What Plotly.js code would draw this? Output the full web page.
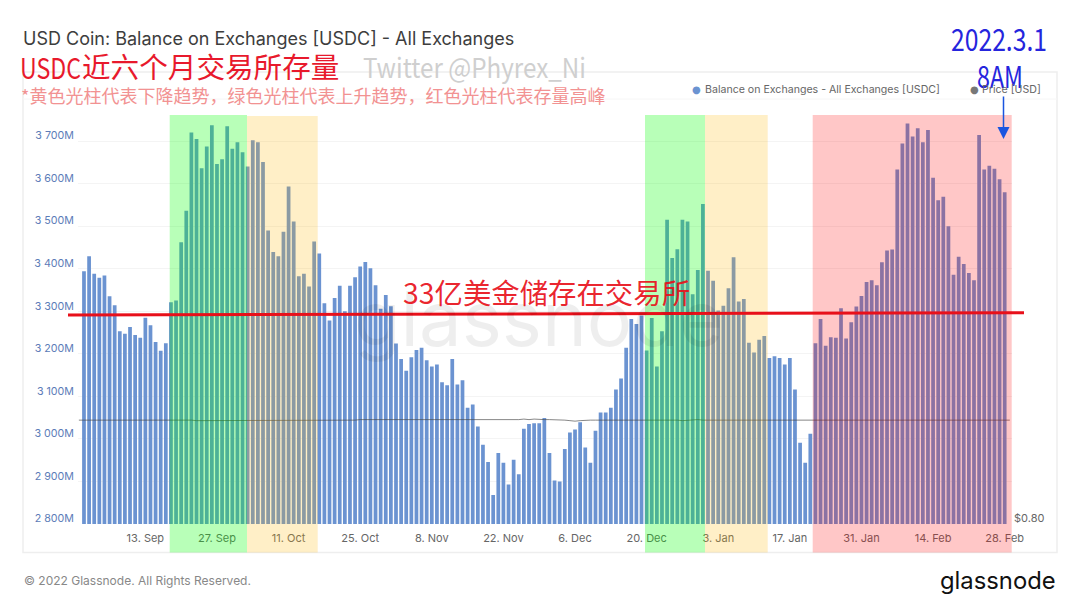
<!DOCTYPE html>
<html><head><meta charset="utf-8">
<script src="https://cdn.plot.ly/plotly-3.0.1.min.js"></script>
<style>html,body{margin:0;padding:0;background:#fff}#c{width:1080px;height:608px}</style>
</head><body><div id="c"></div>
<script>
const balanceM = [3394,3429,3388,3379,3384,3335,3314,3253,3247,3263,3244,3238,3285,3267,3228,3207,3225,3321,3325,3462,3536,3720,3705,3636,3687,3737,3646,3657,3735,3682,3697,3674,3640,3702,3697,3651,3490,3439,3429,3487,3593,3511,3382,3388,3358,3464,3436,3319,3278,3331,3360,3300,3360,3380,3405,3416,3401,3361,3306,3338,3312,3224,3188,3160,3192,3209,3214,3185,3170,3175,3133,3126,3188,3128,3138,3073,3081,3029,2986,2946,2868,2967,2944,2893,2951,2917,3024,3035,3037,3037,3049,2967,2902,2900,2976,3015,3022,3039,2980,2944,3019,3062,3062,3073,3116,3142,3214,3282,3270,3290,3208,3284,3170,3253,3515,3425,3446,3515,3511,3340,3397,3552,3395,3372,3302,3313,3354,3427,3323,3329,3226,3203,3233,3242,3190,3194,3190,3175,3190,3116,2991,2944,3012,3225,3282,3219,3239,3238,3307,3236,3274,3311,3336,3369,3373,3361,3415,3443,3445,3633,3694,3741,3711,3730,3697,3726,3614,3561,3569,3500,3386,3428,3411,3390,3373,3714,3633,3642,3635,3610,3580];
const priceUsd = [1.000,1.000,1.000,1.000,1.000,1.000,1.000,1.000,1.000,1.000,1.000,1.000,1.001,1.001,1.000,1.000,1.000,1.000,1.000,1.000,1.000,1.000,1.000,0.999,0.999,1.000,1.000,1.000,1.000,1.000,1.000,1.000,1.000,0.999,1.000,1.000,1.000,1.000,1.000,1.000,1.000,1.000,1.000,1.000,1.000,1.000,1.000,1.000,1.000,1.000,1.000,1.000,1.000,1.000,1.000,1.001,1.001,1.000,1.000,1.000,1.000,1.000,1.000,1.000,1.000,1.001,1.001,1.000,1.000,1.000,1.000,1.000,1.000,1.000,1.000,1.000,1.000,1.000,1.000,1.000,1.000,1.000,1.000,1.000,1.000,1.001,1.001,1.002,1.001,1.002,1.001,1.001,1.001,1.001,1.000,1.000,0.999,0.998,0.999,1.000,1.000,1.000,1.000,1.000,1.000,1.000,1.000,1.001,1.000,1.000,1.000,1.000,1.000,1.000,1.001,1.000,1.001,1.000,0.999,1.000,1.001,1.001,1.000,1.000,1.000,1.000,1.000,1.000,1.000,1.000,1.000,1.000,1.000,1.000,1.000,1.000,1.001,1.000,1.000,1.000,1.001,1.000,1.000,1.000,1.000,1.000,1.000,1.000,1.000,1.000,1.000,1.000,1.000,1.000,1.000,1.000,1.000,1.000,1.000,1.000,1.000,1.000,1.000,1.000,1.000,1.000,1.000,1.000,1.000,1.000,1.000,1.000,1.000,1.000,1.000,1.000,1.000,1.000,1.000,1.000,1.000,1.000,1.000];
const xTickDates = ['2021-09-13','2021-09-27','2021-10-11','2021-10-25','2021-11-08','2021-11-22','2021-12-06','2021-12-20','2022-01-03','2022-01-17','2022-01-31','2022-02-14','2022-02-28'];
const xTickLabels = ['13. Sep','27. Sep','11. Oct','25. Oct','8. Nov','22. Nov','6. Dec','20. Dec','3. Jan','17. Jan','31. Jan','14. Feb','28. Feb'];
const yTickValues = [2800,2900,3000,3100,3200,3300,3400,3500,3600,3700];
const yTickLabels = ['2 800M','2 900M','3 000M','3 100M','3 200M','3 300M','3 400M','3 500M','3 600M','3 700M'];

const DAY = 86400000;
const START = Date.UTC(2021,8,1);
const iso = t => new Date(t).toISOString().slice(0,19);
const barDates = balanceM.map((_,i)=>iso(START+i*DAY));
const priceDates = priceUsd.map((_,i)=>iso(START+(i-1)*DAY));

const L=78,R=1012,T=115,B=524.5;
const px=x=>(x-L)/(R-L), py=y=>(B-y)/(B-T);
const CJK='"Noto Sans CJK SC","Noto Sans",sans-serif';
const note=(x,y,text,size,color,family,anchor='left',extra={})=>Object.assign({xref:'paper',yref:'paper',x:px(x),y:py(y),text,showarrow:false,xanchor:anchor,yanchor:'middle',font:{size,color,family},borderpad:0},extra);
const band=(x0,x1,y0,color)=>({type:'rect',xref:'paper',yref:'paper',x0:px(x0),x1:px(x1),y0:py(553),y1:py(y0),fillcolor:color,line:{width:0},layer:'above'});
const rule=(x0,y0,x1,y1,color,w,layer)=>({type:'line',xref:'paper',yref:'paper',x0:px(x0),y0:py(y0),x1:px(x1),y1:py(y1),line:{color,width:w},layer});

const traces=[
 {type:'bar',x:barDates,y:balanceM,name:'Balance on Exchanges - All Exchanges [USDC]',marker:{color:'#6b93d1',line:{width:0}},hoverinfo:'x+y'},
 {type:'scatter',mode:'lines',x:priceDates,y:priceUsd,name:'Price [USD]',yaxis:'y2',line:{color:'rgba(70,70,70,0.65)',width:1},hoverinfo:'x+y'}
];
const layout={
 width:1080,height:608,paper_bgcolor:'#fff',plot_bgcolor:'rgba(0,0,0,0)',showlegend:false,bargap:0.27,
 margin:{l:L,r:1080-R,t:T,b:608-B,pad:0},
 font:{family:'Inter, sans-serif'},
 title:{text:'USD Coin: Balance on Exchanges [USDC] - All Exchanges',x:23/1080,xanchor:'left',xref:'container',y:1-38.7/608,yanchor:'middle',yref:'container',font:{size:18,color:'#3d3d3d',family:'Inter, sans-serif'}},
 xaxis:{type:'date',range:[iso(START-1.17*DAY),iso(START+181.43*DAY)],tickmode:'array',tickvals:xTickDates,ticktext:xTickLabels,showgrid:false,zeroline:false,showline:false,ticks:'',tickfont:{size:11,color:'#666',family:'Inter, sans-serif'},ticklabelstandoff:6},
 yaxis:{range:[2800,2800+(B-T)/0.426],tickmode:'array',tickvals:yTickValues,ticktext:yTickLabels,showgrid:true,gridcolor:'#f4f4f4',gridwidth:1,zeroline:false,showline:false,ticks:'',tickfont:{size:10.7,color:'#5c7cb8',family:'Inter, sans-serif'},ticklabelstandoff:3},
 yaxis2:{overlaying:'y',side:'right',range:[0.8,0.8+0.2*(B-T)/104],tickmode:'array',tickvals:[0.8],ticktext:['$0.80'],showgrid:false,zeroline:false,showline:false,ticks:'',tickfont:{size:11,color:'#666',family:'Inter, sans-serif'},ticklabelshift:-6,ticklabelstandoff:1},
 shapes:[
  {type:'rect',xref:'paper',yref:'paper',x0:px(23),x1:px(1057),y0:py(553),y1:py(72),fillcolor:'rgba(0,0,0,0)',line:{color:'#eeeeee',width:1.5},layer:'below'},
  rule(23,99,1057,99,'#f6f6f6',1,'below'),
  band(169.7,247,115,'rgba(0,255,0,0.28)'),
  band(247,317.7,116,'rgba(255,183,0,0.22)'),
  band(645,705,115,'rgba(0,255,0,0.28)'),
  band(705,767.7,115,'rgba(255,183,0,0.22)'),
  band(812.7,1011.7,115,'rgba(255,0,0,0.22)'),
  rule(68,315.2,1024,313,'#e8101a',3,'above')
 ],
 annotations:[
  note(538,318,'glassnode',76,'rgba(0,0,0,0.065)','Inter, sans-serif','center'),
  note(20,65.5,'USDC',29,'#e8192c',CJK),
  note(81,65.5,'近六个月交易所存量',28.6,'#e8192c',CJK),
  note(363,66,'Twitter @Phyrex_Ni',27,'#cfcfcf',CJK),
  note(20,95,'*黄色光柱代表下降趋势，绿色光柱代表上升趋势，红色光柱代表存量高峰',18,'#f29292',CJK),
  note(402,292,'33亿美金储存在交易所',28.4,'rgba(232,16,26,0.92)',CJK),
  note(999,38,'2022.3.1',30,'#2525dd',CJK),
  note(1000,75,'8AM',30,'#2525dd',CJK),
  note(696,89,'●',10,'#6b93d1','DejaVu Sans','center'),
  note(704,89,'Balance on Exchanges - All Exchanges [USDC]',10.6,'#666','Inter, sans-serif'),
  note(974,89,'●',10,'#777','DejaVu Sans','center'),
  note(981,89,'Price [USD]',10.6,'#666','Inter, sans-serif'),
  note(23,581,'© 2022 Glassnode. All Rights Reserved.',12,'#888','Inter, sans-serif'),
  note(1057,581,'glassnode',23.8,'#111','Inter, sans-serif','right'),
  {xref:'paper',yref:'paper',x:px(1003.5),y:py(139),ax:0,ay:-44,axref:'pixel',ayref:'pixel',text:'',showarrow:true,arrowhead:2,arrowsize:1.6,arrowwidth:1.5,arrowcolor:'#1a55e0'}
 ]
};
const narrowTexts={'USDC':[20,61],'Twitter @Phyrex_Ni':[363,223],'2022.3.1':[951,96],'8AM':[977,46]};
Plotly.newPlot('c',traces,layout,{displayModeBar:false,responsive:false,staticPlot:true}).then(()=>{
 const box=document.getElementById('c').getBoundingClientRect();
 document.querySelectorAll('#c .annotation-text').forEach(el=>{
  const spec=narrowTexts[el.textContent];
  if(!spec) return;
  el.setAttribute('textLength',spec[1]);
  el.setAttribute('lengthAdjust','spacingAndGlyphs');
  el.style.textAnchor='start';
  const now=el.getBoundingClientRect().left-box.left;
  el.setAttribute('x',(parseFloat(el.getAttribute('x'))||0)+spec[0]-now);
 });
 document.querySelectorAll('#c .ytick text').forEach(el=>{
  el.setAttribute('y',(parseFloat(el.getAttribute('y'))||0)-5.5);
 });
});
</script></body></html>
